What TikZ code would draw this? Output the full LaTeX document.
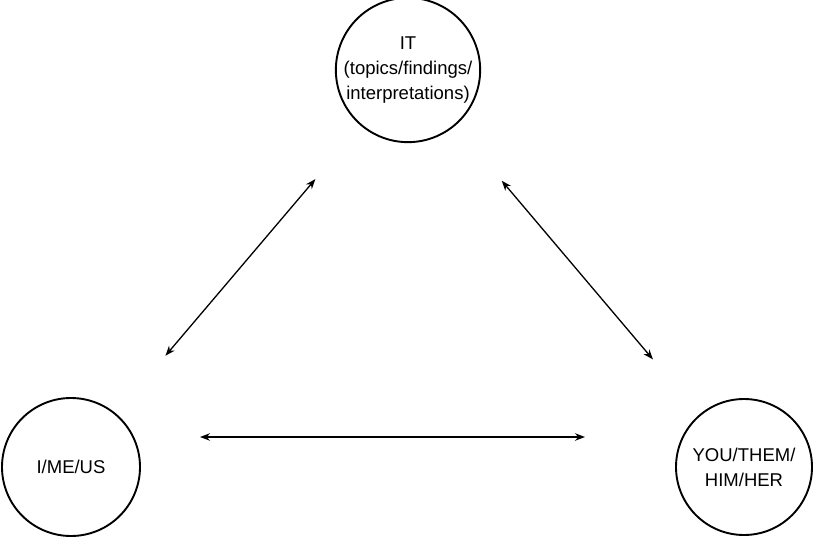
\documentclass[tikz,border=0pt]{standalone}
\usepackage{fontspec}
\setmainfont{Liberation Sans}
\usetikzlibrary{arrows.meta,calc}
\begin{document}
\begin{tikzpicture}[x=1pt,y=1pt,
  party/.style={draw, line width=1.9pt, circle, minimum size=138pt, inner sep=0pt,
    align=center, font=\fontsize{18.5}{25}\selectfont},
  link/.style={line width=1.3pt, {Stealth[length=10pt,width=7.5pt]}-{Stealth[length=10pt,width=7.5pt]}}]
  \useasboundingbox (0,0) rectangle (813,542);
  % the three parties
  \node[party] (it) at (408,472) {IT\\(topics/findings/\\interpretations)};
  \node[party] (me) at (71,75) {I/ME/US};
  \node[party, minimum size=136pt] (you) at (744,75) {YOU/THEM/\\HIM/HER};
  % two-way relations between them
  \draw[link, shorten <=70pt, shorten >=76pt] (it) -- (me);
  \draw[link, shorten <=72pt, shorten >=72pt] (it) -- (you);
  \coordinate (hl) at ($(me.center)+(129pt,30pt)$);
  \coordinate (hr) at ($(you.center)+(-159pt,30pt)$);
  \draw[link] (hl) -- (hr);
\end{tikzpicture}
\end{document}
